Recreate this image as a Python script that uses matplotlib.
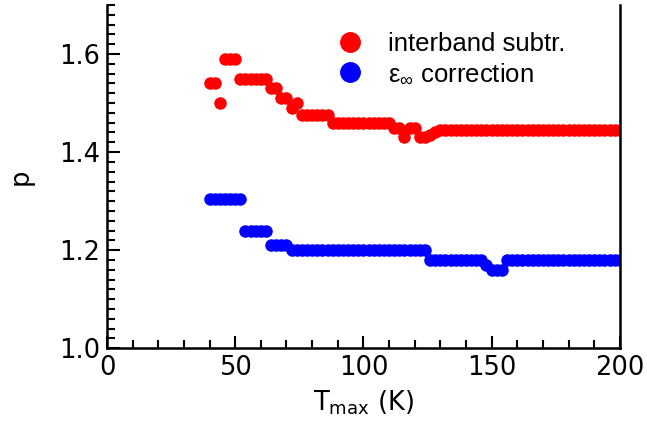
import numpy as np
import matplotlib.pyplot as plt
from matplotlib.ticker import MultipleLocator

# T_max (K) grid, one point every 2 K
t_max = np.arange(40, 201, 2)

# interband subtraction
p_inter = [1.54, 1.54, 1.50, 1.59, 1.59, 1.59,
           1.55, 1.55, 1.55, 1.55, 1.55, 1.55,
           1.53, 1.53, 1.51, 1.51, 1.49, 1.50,
           1.475, 1.475, 1.475, 1.475, 1.475, 1.475,
           1.46, 1.46, 1.46, 1.46, 1.46, 1.46, 1.46, 1.46, 1.46, 1.46, 1.46, 1.46,
           1.45, 1.45, 1.43, 1.45, 1.45, 1.43, 1.43, 1.435, 1.44] + [1.445] * 36

# eps_inf correction
p_eps = [1.305] * 7 + [1.24] * 5 + [1.21] * 4 + [1.20] * 27 + [1.18] * 11 \
        + [1.17] + [1.16] * 3 + [1.18] * 23

plt.rcParams['font.family'] = ['DejaVu Sans']
plt.rcParams['mathtext.default'] = 'regular'

fig = plt.figure(figsize=(6.47, 4.23), dpi=100)
ax = fig.add_axes([0.1654, 0.177, 0.7926, 0.811])

ax.plot(t_max, p_inter, 'o', color='#ff0000', ms=8, mec='#ff0000',
        label='interband subtr.')
ax.plot(t_max, p_eps, 'o', color='#0000ff', ms=8, mec='#0000ff',
        label=r'ε$_{\infty}$ correction')

ax.set_xlim(0, 200)
ax.set_ylim(1.0, 1.7)
ax.xaxis.set_major_locator(MultipleLocator(50))
ax.xaxis.set_minor_locator(MultipleLocator(10))
ax.yaxis.set_major_locator(MultipleLocator(0.2))
ax.yaxis.set_minor_locator(MultipleLocator(0.02))
ax.tick_params(which='both', direction='in', width=1.5, labelsize=18.5,
               top=False, right=False)
ax.tick_params(which='major', length=9, pad=5)
ax.tick_params(which='minor', length=5.5)
ax.yaxis.set_major_formatter(plt.FormatStrFormatter('%.1f'))

for side in ['left', 'bottom', 'right']:
    ax.spines[side].set_linewidth(1.8)
ax.spines['top'].set_visible(False)

ax.set_xlabel(r'T$_{max}$ (K)', fontsize=18.5, labelpad=5)
ax.set_ylabel('p', fontsize=18.5, labelpad=18)

leg = ax.legend(loc='upper left', bbox_to_anchor=(0.403, 0.99), frameon=False,
                prop={'family': 'Liberation Sans', 'size': 18.5},
                markerscale=1.75, handlelength=1.0, handletextpad=1.0,
                labelspacing=0.25)

fig.savefig('out.png', dpi=100)
